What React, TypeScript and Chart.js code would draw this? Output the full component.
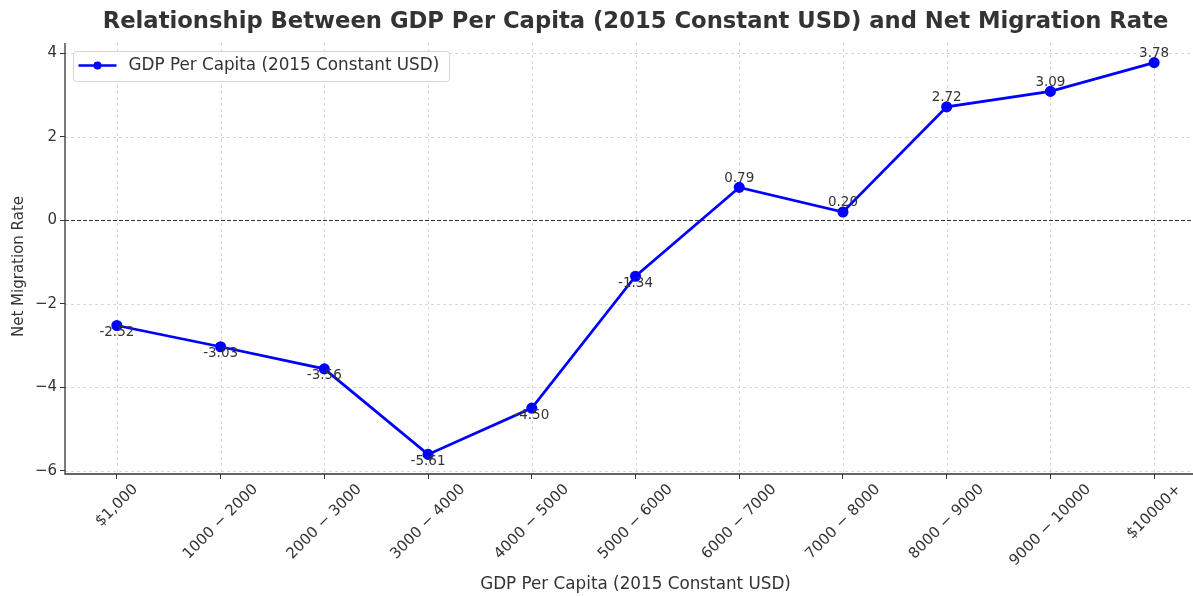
import React, { useEffect, useRef } from "react";
import { Chart, registerables } from "chart.js";

Chart.register(...registerables);

const categories = [
  "$1,000",
  "1000 − 2000",
  "2000 − 3000",
  "3000 − 4000",
  "4000 − 5000",
  "5000 − 6000",
  "6000 − 7000",
  "7000 − 8000",
  "8000 − 9000",
  "9000 − 10000",
  "$10000+",
];
const netMigration = [-2.52, -3.03, -3.56, -5.61, -4.5, -1.34, 0.79, 0.2, 2.72, 3.09, 3.78];
const yTicks = [-6, -4, -2, 0, 2, 4];
const seriesLabel = "GDP Per Capita (2015 Constant USD)";
const titleText = "Relationship Between GDP Per Capita (2015 Constant USD) and Net Migration Rate";
const xTitle = "GDP Per Capita (2015 Constant USD)";
const yTitle = "Net Migration Rate";

const FONT = "DejaVu Sans";
const TEXT = "#333333";
const BLUE = "#0000ff";

const decorPlugin = {
  id: "decor",
  beforeDatasetsDraw(chart: any) {
    const { ctx, chartArea, scales } = chart;
    const xs = scales.x;
    const ys = scales.y;
    ctx.save();
    ctx.strokeStyle = "#d0d0d0";
    ctx.lineWidth = 0.8;
    ctx.setLineDash([3, 3]);
    categories.forEach((_, i) => {
      const x = Math.round(xs.getPixelForValue(i)) + 0.5;
      ctx.beginPath();
      ctx.moveTo(x, chartArea.top);
      ctx.lineTo(x, chartArea.bottom);
      ctx.stroke();
    });
    yTicks.forEach((v) => {
      const y = Math.round(ys.getPixelForValue(v)) + 0.5;
      ctx.beginPath();
      ctx.moveTo(chartArea.left, y);
      ctx.lineTo(chartArea.right, y);
      ctx.stroke();
    });
    // zero line
    ctx.strokeStyle = "#333333";
    ctx.lineWidth = 1;
    ctx.setLineDash([4, 2]);
    const y0 = Math.round(ys.getPixelForValue(0)) + 0.5;
    ctx.beginPath();
    ctx.moveTo(chartArea.left, y0);
    ctx.lineTo(chartArea.right, y0);
    ctx.stroke();
    ctx.setLineDash([]);
    // left and bottom spines
    ctx.strokeStyle = "#333333";
    ctx.lineWidth = 1.3;
    ctx.beginPath();
    ctx.moveTo(chartArea.left, chartArea.top);
    ctx.lineTo(chartArea.left, chartArea.bottom);
    ctx.lineTo(chartArea.right, chartArea.bottom);
    ctx.stroke();
    ctx.restore();
  },
  afterDatasetsDraw(chart: any) {
    const { ctx, chartArea, scales } = chart;
    const xs = scales.x;
    const ys = scales.y;
    const cx = (chartArea.left + chartArea.right) / 2;
    ctx.save();
    ctx.textAlign = "center";
    ctx.textBaseline = "middle";
    // title
    ctx.fillStyle = TEXT;
    ctx.font = `bold 22.7px ${FONT}`;
    ctx.fillText(titleText, cx, 22);
    // data labels
    ctx.font = `13.5px ${FONT}`;
    netMigration.forEach((v, i) => {
      const px = xs.getPixelForValue(i);
      const py = ys.getPixelForValue(v);
      ctx.fillText(v.toFixed(2), px, v >= 0 ? py - 9 : py + 7);
    });
    // x tick labels (rotated, bbox centered on tick)
    ctx.font = `15px ${FONT}`;
    const h = 17;
    categories.forEach((c, i) => {
      const px = xs.getPixelForValue(i);
      const w = ctx.measureText(c).width;
      const half = (w + h) / (2 * Math.SQRT2);
      const cy = chartArea.bottom + 7 + half;
      ctx.save();
      ctx.translate(px, cy);
      ctx.rotate(-Math.PI / 4);
      ctx.fillText(c, 0, 0);
      ctx.restore();
    });
    // y title
    ctx.save();
    ctx.translate(19, (chartArea.top + chartArea.bottom) / 2 + 8);
    ctx.rotate(-Math.PI / 2);
    ctx.fillText(yTitle, 0, 0);
    ctx.restore();
    // x title
    ctx.font = `16.8px ${FONT}`;
    ctx.fillText(xTitle, cx, 585);
    // legend
    const lx = chartArea.left + 8.5;
    const ly = chartArea.top + 8.5;
    const lw = 376;
    const lh = 30;
    ctx.beginPath();
    ctx.roundRect(lx, ly, lw, lh, 3);
    ctx.fillStyle = "rgba(255,255,255,0.85)";
    ctx.fill();
    ctx.strokeStyle = "#d5d5d5";
    ctx.lineWidth = 1;
    ctx.stroke();
    const cy = ly + lh / 2 - 1;
    ctx.strokeStyle = BLUE;
    ctx.lineWidth = 2.5;
    ctx.beginPath();
    ctx.moveTo(lx + 5, cy);
    ctx.lineTo(lx + 43, cy);
    ctx.stroke();
    ctx.fillStyle = BLUE;
    ctx.beginPath();
    ctx.arc(lx + 24, cy, 4, 0, Math.PI * 2);
    ctx.fill();
    ctx.fillStyle = TEXT;
    ctx.textAlign = "left";
    ctx.fillText(seriesLabel, lx + 55, cy);
    ctx.restore();
  },
};

export default function App() {
  const ref = useRef<HTMLCanvasElement | null>(null);
  useEffect(() => {
    document.body.style.margin = "0";
    Chart.defaults.font.family = FONT;
    const canvas = ref.current!;
    const chart = new Chart(canvas, {
      type: "line",
      data: {
        labels: categories,
        datasets: [
          {
            label: seriesLabel,
            data: netMigration,
            borderColor: BLUE,
            backgroundColor: BLUE,
            pointBackgroundColor: BLUE,
            pointBorderColor: BLUE,
            borderWidth: 2.7,
            pointRadius: 4.2,
            tension: 0,
          },
        ],
      },
      options: {
        responsive: false,
        animation: false,
        devicePixelRatio: 1,
        layout: { padding: { left: 0, right: 9, top: 43, bottom: 0 } },
        plugins: {
          legend: { display: false },
          tooltip: { enabled: false },
          title: { display: false },
        },
        scales: {
          x: {
            type: "category",
            offset: true,
            grid: { drawOnChartArea: false, drawTicks: true, tickLength: 5, tickColor: "#333333", offset: false },
            border: { display: false },
            ticks: { display: false },
            afterFit: (s: any) => {
              s.height = 122;
            },
          },
          y: {
            type: "linear",
            min: -6.08,
            max: 4.25,
            grid: { drawOnChartArea: false, drawTicks: true, tickLength: 5, tickColor: "#333333" },
            border: { display: false },
            afterBuildTicks: (s: any) => {
              s.ticks = yTicks.map((v) => ({ value: v }));
            },
            ticks: {
              color: TEXT,
              padding: 3,
              font: { family: FONT, size: 15 },
              callback: (v: any) => String(v).replace("-", "−"),
            },
            afterFit: (s: any) => {
              s.width = 65;
            },
          },
        },
      },
      plugins: [decorPlugin],
    });
    return () => chart.destroy();
  }, []);
  return (
    <div style={{ width: 1193, height: 596, overflow: "hidden" }}>
      <canvas ref={ref} width={1215} height={596} style={{ display: "block" }} />
    </div>
  );
}
